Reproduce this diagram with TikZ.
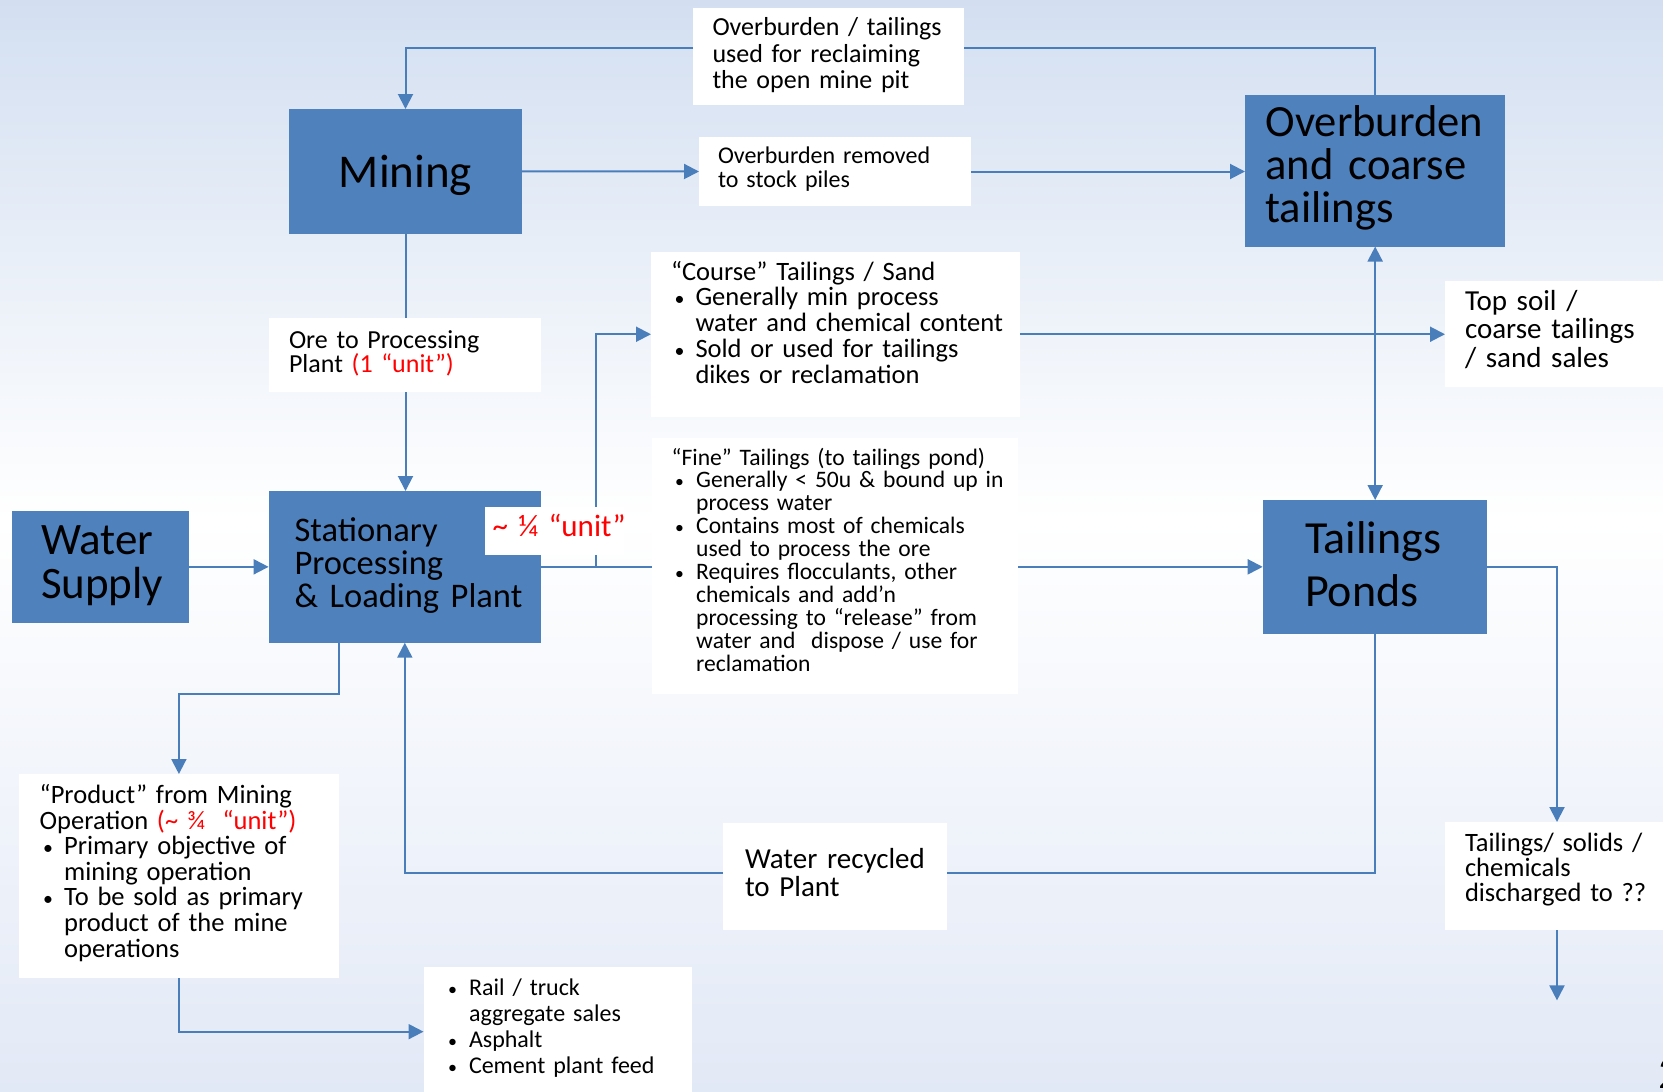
\documentclass[tikz,border=0pt]{standalone}
\usepackage{fontspec}
\usepackage{graphicx}
\setmainfont{Carlito}
\usetikzlibrary{arrows.meta}

\definecolor{boxblue}{RGB}{79,129,189}
\definecolor{linkblue}{RGB}{74,126,187}
\definecolor{bgtop}{RGB}{211,223,241}
\definecolor{bgbot}{RGB}{226,233,246}
\definecolor{unitred}{RGB}{255,0,0}

\pgfdeclarelayer{back}
\pgfdeclarelayer{lines}
\pgfsetlayers{back,lines,main}

\hyphenpenalty=10000
\newcommand{\fs}[2]{\fontsize{#1}{#2}\selectfont}
\newcommand{\bitem}[1]{\noindent\hangindent=24.5pt\hangafter=1\makebox[24.5pt][l]{\hspace{3.5pt}\scalebox{0.75}{•}}#1\par}

\tikzset{
  >={Triangle[length=15pt,width=15pt]},
  stage/.style={fill=boxblue, anchor=north west, outer sep=0pt, inner sep=0pt},
  note/.style={fill=white, anchor=north west, outer sep=0pt, inner sep=0pt},
  pad/.style={execute at begin node={\leftskip=#1\relax}},
  link/.style={draw=linkblue, line width=2pt, ->},
}

\begin{document}
\begin{tikzpicture}[x=1pt, y=-1pt]

    \useasboundingbox (0,0) rectangle (1663,1092);
    \clip (0,0) rectangle (1663,1092);

    % Background
    \begin{pgfonlayer}{back}
        \shade[top color=bgtop, bottom color=white] (0,0) rectangle (1663,520);
        \shade[top color=white, bottom color=bgbot] (0,520) rectangle (1663,1092);
    \end{pgfonlayer}

    % Main blocks
    \node[stage, text width=233pt, align=center, text height=78pt, text depth=46.6pt, font=\fs{47}{47}] (mining) at (289,109) {Mining};
    \node[stage, text width=260.3pt, pad=20.5pt, text height=41.5pt, text depth=110pt, font=\fs{44.6}{43.2}] (overb) at (1245,95) {Overburden\\and coarse\\tailings};
    \node[stage, text width=272.4pt, pad=26pt, text height=50.7pt, text depth=101pt, font=\fs{34.5}{32.8}] (stat) at (268.6,491) {Stationary\\Processing\\\& Loading Plant};
    \node[stage, text width=176.6pt, pad=29pt, text height=43pt, text depth=68.7pt, font=\fs{45}{44.3}] (water) at (12,511) {Water\\Supply};
    \node[stage, text width=224pt, pad=42.3pt, text height=53.3pt, text depth=80.7pt, font=\fs{46}{52.7}] (ponds) at (1262.7,500) {Tailings\\Ponds};

    % Text boxes
    \node[note, text width=271pt, pad=19.5pt, text height=27.9pt, text depth=68.6pt, font=\fs{26}{26.3}] (reclaim) at (693,8) {Overburden / tailings\\used for reclaiming\\the open mine pit};
    \node[note, text width=272pt, pad=19pt, text height=26.6pt, text depth=42.4pt, font=\fs{24}{23.4}] (stock) at (699,137) {Overburden removed\\to stock piles};
    \node[note, text width=271.5pt, pad=20pt, text height=30pt, text depth=43.7pt, font=\fs{26}{24.3}] (ore) at (269,318) {Ore to Processing\\Plant \textcolor{unitred}{(1 “unit”)}};
    \node[note, text width=139.3pt, pad=7.7pt, text height=29.7pt, text depth=18.3pt, text=unitred, font=\fs{31}{31}] (quarter) at (485,507) {\mbox{\textasciitilde{} ¼ “unit”}};
    \node[note, text width=368.7pt, pad=20pt, text height=28pt, text depth=136.5pt, font=\fs{26.5}{25.75}] (course) at (651,252) {“Course” Tailings / Sand\par
        \bitem{Generally min process\newline water and chemical content}
        \bitem{Sold or used for tailings\newline dikes or reclamation}};
    \node[note, text width=366.3pt, pad=20pt, text height=26.7pt, text depth=228.7pt, font=\fs{23.6}{22.9}] (fine) at (651.7,438.3) {“Fine” Tailings (to tailings pond)\par
        \bitem{Generally < 50u \& bound up in\newline process water}
        \bitem{Contains most of chemicals\newline used to process the ore}
        \bitem{Requires flocculants, other\newline chemicals and add’n\newline processing to “release” from\newline water and~ dispose / use for\newline reclamation}};
    \node[note, text width=224pt, pad=20pt, text height=29pt, text depth=76.5pt, font=\fs{29}{28.65}] (topsoil) at (1445,281) {Top soil /\\coarse tailings\\/ sand sales};
    \node[note, text width=224pt, pad=20pt, text height=29.7pt, text depth=78pt, font=\fs{26.5}{24.7}] (discharge) at (1445,822) {Tailings/ solids /\\chemicals\\discharged to ??};
    \node[note, text width=224pt, pad=22pt, text height=45pt, text depth=61.7pt, font=\fs{29}{28}] (recycled) at (723,823) {Water recycled\\to Plant};
    \node[note, text width=319.8pt, pad=20.7pt, text height=29.7pt, text depth=174pt, font=\fs{26.5}{25.55}] (product) at (19,774) {“Product” from Mining\\Operation \textcolor{unitred}{(\textasciitilde{} ¾~~“unit”)}\par
        \bitem{Primary objective of\newline mining operation}
        \bitem{To be sold as primary\newline product of the mine\newline operations}};
    \node[note, text width=268.9pt, pad=21pt, text height=27.7pt, text depth=101pt, font=\fs{24}{26.2}] (rail) at (423.5,967.3) {\bitem{Rail / truck\newline aggregate sales}
        \bitem{Asphalt}
        \bitem{Cement plant feed}};

    % Slide number, cut at the edge
    \node[anchor=base west, inner sep=0pt, font=\fs{46}{46}] (pagenum) at (1658,1088) {2};

    \coordinate (split) at (596,566.85);
    \coordinate (sink) at (1557,1000.4);

    % Flows
    \begin{pgfonlayer}{lines}
        \draw[link] (overb.north) -- ++(0,-47.3) -| (mining.north);
        \draw[link] (mining.east) -- (stock.west);
        \draw[link] (stock.east) -- (stock.east -| overb.west);
        \draw[link] (mining.south) -- (mining.south |- stat.north);
        \draw[link] (water.east) -- (stat.west);
        \draw[link] (stat.east) -- (stat.east -| ponds.west);
        \draw[link] (split) |- (course.west);
        \draw[link] (course.east) -- (course.east -| topsoil.west);
        \draw[link, <->] (overb.south) -- (overb.south |- ponds.north);
        \draw[link] (ponds.east) -| (discharge.north);
        \draw[link] (discharge.south) -- (sink);
        \draw[link] (ponds.south) -- ++(0,239.3) -| (stat.south);
        \draw[link] ([xshift=-65.5pt]stat.south) -- ++(0,51.3) -| (product.north);
        \draw[link] (product.south) |- (rail.west);
    \end{pgfonlayer}

\end{tikzpicture}
\end{document}
